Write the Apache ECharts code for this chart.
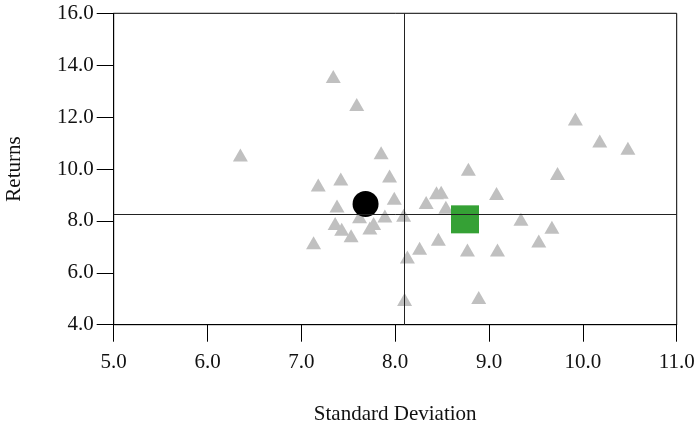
<!DOCTYPE html>
<html><head><meta charset="utf-8">
<script src="https://cdn.jsdelivr.net/npm/echarts@6/dist/echarts.min.js"></script>
<style>html,body{margin:0;padding:0;background:#fff}#c{width:697px;height:427px}</style>
</head><body><div id="c"></div>
<script>
const assetX = [7.34,7.59,6.35,7.85,7.94,7.18,7.42,7.99,7.38,7.62,7.89,8.09,7.36,7.43,7.77,7.73,7.53,7.13,8.13,8.26,8.46,8.10,8.33,8.44,8.49,8.54,9.92,10.18,10.48,9.73,8.78,9.08,9.34,9.67,9.53,8.77,9.09,8.89];
const assetY = [13.56,12.49,10.54,10.63,9.73,9.38,9.61,8.87,8.57,8.16,8.19,8.22,7.90,7.68,7.90,7.73,7.43,7.16,6.61,6.95,7.29,4.97,8.71,9.08,9.10,8.53,11.93,11.08,10.80,9.83,9.99,9.06,8.06,7.76,7.23,6.88,6.88,5.05];
const circlePoint = [7.684, 8.65];
const squarePoint = [8.744, 8.06];
const meanStdDev = 8.097;
const meanReturn = 8.25;
const xTicks = {min:5, max:11, interval:1};
const yTicks = {min:4, max:16, interval:2};

const FONT = 'Liberation Serif';
const chart = echarts.init(document.getElementById('c'), null, {renderer:'canvas'});
const axisCommon = {
  axisLine:{show:true, onZero:false, lineStyle:{color:'#000', width:1}},
  axisTick:{show:true, length:17, lineStyle:{color:'#000', width:1}},
  splitLine:{show:false},
  nameTextStyle:{color:'#111', fontFamily:FONT, fontSize:21}
};
const labelStyle = m => ({color:'#111', fontFamily:FONT, fontSize:21, margin:m, formatter:v=>Number(v).toFixed(1)});
chart.setOption({
  animation:false,
  backgroundColor:'#fff',
  grid:{left:113.7, right:20.3, top:13.3, bottom:102.3, containLabel:false, outerBoundsMode:'none',
    show:true, borderColor:'#000', borderWidth:1, backgroundColor:'transparent'},
  xAxis:Object.assign({type:'value', min:xTicks.min, max:xTicks.max, interval:xTicks.interval,
    name:'Standard Deviation', nameLocation:'middle', nameGap:79}, axisCommon, {axisLabel:labelStyle(27)}),
  yAxis:Object.assign({type:'value', min:yTicks.min, max:yTicks.max, interval:yTicks.interval,
    name:'Returns', nameLocation:'middle', nameGap:89}, axisCommon, {axisLabel:labelStyle(20)}),
  series:[
    {type:'scatter', symbol:'triangle', symbolSize:[15,13], itemStyle:{color:'#c0c0c0', opacity:1},
     data:assetX.map((x,i)=>[x, assetY[i]]), z:2,
     markLine:{silent:true, symbol:['none','none'], label:{show:false},
       lineStyle:{color:'#222', width:1, type:'solid'},
       data:[{xAxis:meanStdDev},{yAxis:meanReturn}]}},
    {type:'scatter', symbol:'circle', symbolSize:26, itemStyle:{color:'#000', opacity:1}, data:[circlePoint], z:4},
    {type:'scatter', symbol:'rect', symbolSize:28, itemStyle:{color:'#35a135', opacity:1}, data:[squarePoint], z:4}
  ]
});
</script></body></html>
